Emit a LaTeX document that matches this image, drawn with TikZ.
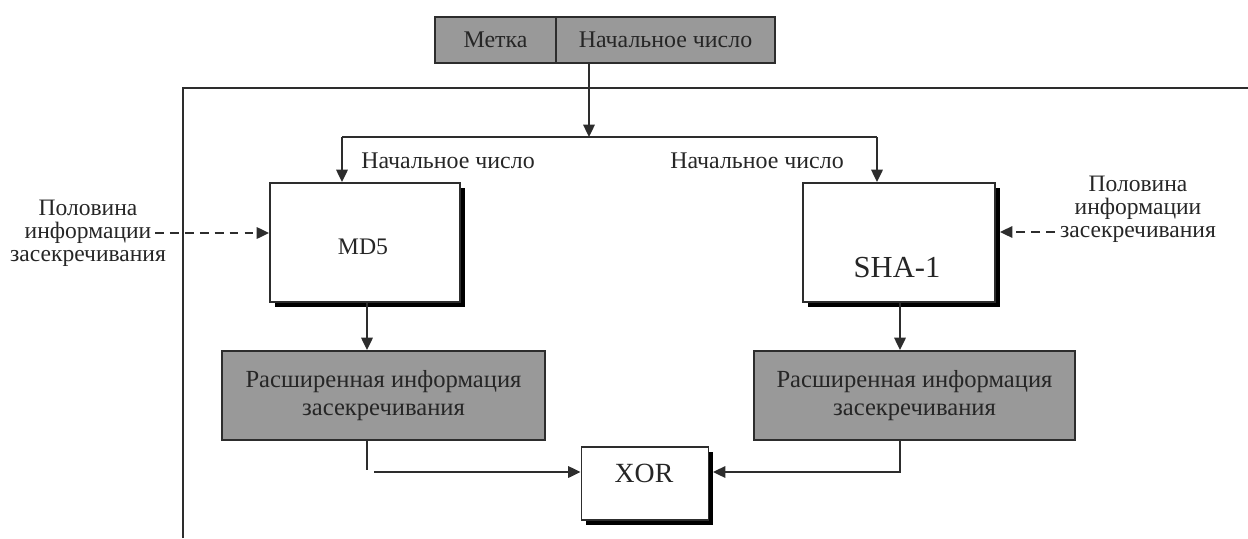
\documentclass[tikz,border=0pt]{standalone}
\usepackage{fontspec}
\setmainfont{Liberation Serif}
\usetikzlibrary{arrows.meta,shadows}
\definecolor{boxgray}{RGB}{153,153,153}
\definecolor{linec}{RGB}{45,45,45}
\begin{document}
\begin{tikzpicture}[x=0.02cm,y=-0.02cm,
  every node/.style={font=\fontsize{13.6}{15}\selectfont, text=black!85},
  conn/.style={draw=linec, line width=1.1pt},
  arr/.style={conn, -{Triangle[length=7pt,width=6.5pt]}},
  darr/.style={arr, dash pattern=on 5pt off 3.5pt},
  topcell/.style={draw=linec, line width=1.1pt, fill=boxgray, minimum height=46*0.02cm, inner sep=0pt},
  whitebox/.style={draw=linec, line width=1.1pt, fill=white, inner sep=0pt,
    drop shadow={shadow xshift=0.09cm, shadow yshift=-0.09cm, fill=black, opacity=1}},
  graybox/.style={draw=linec, line width=1.1pt, fill=boxgray, inner sep=0pt, align=center,
    font=\fontsize{14}{16.4}\selectfont},
  lbl/.style={align=center, inner sep=0pt, font=\fontsize{13.4}{13.1}\selectfont}
]
\useasboundingbox (0,0) rectangle (1248,538);
% frame
\draw[conn] (183,538) -- (183,88) -- (1248,88);
% top box
\node[topcell, minimum width=121*0.02cm] (tb1) at (495.5,40) {Метка};
\node[topcell, minimum width=219*0.02cm] (tb2) at (665.5,40) {Начальное число};
% split
\coordinate (split) at (589,137);
\coordinate (sl) at (342,137);
\coordinate (sr) at (877,137);
\draw[arr] (tb2.south -| split) -- (split);
\draw[conn] (sl) -- (sr);
% MD5 and SHA-1
\node[whitebox, minimum width=190*0.02cm, minimum height=119*0.02cm] (md5) at (365,242.5) {};
\node[inner sep=0pt, font=\fontsize{13.5}{15}\selectfont] (md5text) at (363,247) {MD5};
\node[whitebox, minimum width=192*0.02cm, minimum height=119*0.02cm] (sha) at (899,242.5) {};
\node[inner sep=0pt, font=\fontsize{17.4}{19}\selectfont] (shatext) at (897,268) {SHA-1};
\draw[arr] (sl) -- (sl |- md5.north);
\draw[arr] (sr) -- (sr |- sha.north);
\node (n1) at (448,161) {Начальное число};
\node (n2) at (757,161) {Начальное число};
% side labels
\node[lbl] (hl) at (88,233) {Половина\\информации\\засекречивания};
\node[lbl] (hr) at (1138,209) {Половина\\информации\\засекречивания};
\coordinate (dl) at (155,233);
\coordinate (dr) at (1055,232);
\draw[darr] (dl) -- (dl -| md5.west);
\draw[darr] (dr) -- (1000,232);
% gray boxes
\node[graybox, minimum width=323*0.02cm, minimum height=89*0.02cm] (g1) at (383.5,395.5) {Расширенная информация\\засекречивания};
\node[graybox, minimum width=321*0.02cm, minimum height=89*0.02cm] (g2) at (914.5,395.5) {Расширенная информация\\засекречивания};
\coordinate (mx) at (367,0);
\coordinate (sx) at (900,0);
\draw[arr] (md5.south -| mx) -- (g1.north -| mx);
\draw[arr] (sha.south -| sx) -- (g2.north -| sx);
% XOR
\node[whitebox, minimum width=127*0.02cm, minimum height=73*0.02cm] (xor) at (645,483.5) {};
\node[inner sep=0pt, font=\fontsize{15.8}{17}\selectfont] (xortext) at (644,473) {XOR};
\coordinate (xl1) at (367,470);
\coordinate (xl2) at (374,472);
\coordinate (xr) at (900,472);
\draw[conn] (g1.south -| xl1) -- (xl1);
\draw[arr] (xl2) -- (xl2 -| xor.west);
\draw[arr] (g2.south -| xr) -- (xr) -- (713,472);
\end{tikzpicture}
\end{document}
